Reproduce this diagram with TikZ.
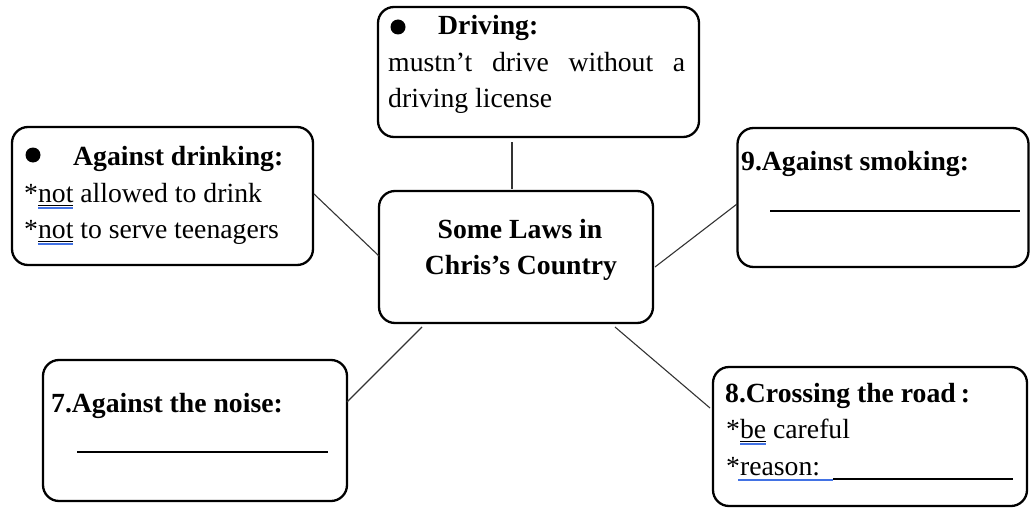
\documentclass[tikz,border=0pt]{standalone}
\usepackage{fontspec}
\setmainfont{Liberation Serif}
\definecolor{ulblue}{RGB}{66,114,228}
\tikzset{
  box/.style={draw=black, line width=2.3pt, rounded corners=16pt, inner sep=0pt, fill=white},
  txt/.style={anchor=base west, inner sep=0pt, font=\fontsize{27.7pt}{34pt}\selectfont},
  ctxt/.style={anchor=base, inner sep=0pt, font=\fontsize{27.7pt}{34pt}\selectfont\bfseries},
  link/.style={draw=black!80, line width=1.1pt},
  blank/.style={draw=black, line width=1.2pt},
  ulb/.style={draw=ulblue, line width=1.4pt},
  ulk/.style={draw=black, line width=0.9pt},
}
\begin{document}
\begin{tikzpicture}[x=1pt,y=-1pt]
\useasboundingbox (0,0) rectangle (1032,508);
% boxes
\node[box, minimum width=321pt, minimum height=130pt] (drv) at (538.5,72) {};
\node[box, minimum width=301pt, minimum height=138pt] (drk) at (162.5,196) {};
\node[box, minimum width=274pt, minimum height=132pt] (ctr) at (516,257) {};
\node[box, minimum width=291pt, minimum height=139pt] (smk) at (883,197.5) {};
\node[box, minimum width=304pt, minimum height=141pt] (noi) at (195,430.5) {};
\node[box, minimum width=314pt, minimum height=139pt] (rd) at (870,436.5) {};
% connector ends
\coordinate (c1a) at (512,142); \coordinate (c1b) at (512,189);
\coordinate (c2a) at (314,194); \coordinate (c2b) at (379,256);
\coordinate (c3a) at (655,267); \coordinate (c3b) at (737,204);
\coordinate (c4a) at (347,402); \coordinate (c4b) at (422,327);
\coordinate (c5a) at (615,327); \coordinate (c5b) at (710,408);
\draw[link] (c1a) -- (c1b);
\draw[link] (c2a) -- (c2b);
\draw[link] (c3a) -- (c3b);
\draw[link] (c4a) -- (c4b);
\draw[link] (c5a) -- (c5b);
% driving
\fill (398,27) circle (7.5);
\node[txt, font=\fontsize{27.7pt}{34pt}\selectfont\bfseries] (t1) at (438,35) {Driving:};
\node[txt] (t2) at (388,72) {\hbox to 297pt{mustn’t\hfill drive\hfill without\hfill a}};
\node[txt] (t3) at (388,108) {driving license};
% drinking
\fill (33,155) circle (7.5);
\node[txt, font=\fontsize{27.7pt}{34pt}\selectfont\bfseries] (t4) at (73,165) {Against drinking:};
\node[txt] (t5) at (24,202) {*not allowed to drink};
\node[txt] (t6) at (24,238) {*not to serve teenagers};
\draw[ulk] (38,205) -- (73,205);
\draw[ulb] (38,208) -- (73,208);
\draw[ulk] (38,241) -- (73,241);
\draw[ulb] (38,244) -- (73,244);
% center
\node[ctxt] (t7) at (520,238) {Some Laws in};
\node[ctxt] (t8) at (521,274) {Chris’s Country};
% smoking
\node[txt, font=\fontsize{27.7pt}{34pt}\selectfont\bfseries] (t9) at (741,170) {9.Against smoking:};
\draw[blank] (770,211) -- (1020,211);
% noise
\node[txt, font=\fontsize{27.7pt}{34pt}\selectfont\bfseries] (t10) at (51,412) {7.Against the noise:};
\draw[blank] (77,452) -- (328,452);
% road
\node[txt, font=\fontsize{27.7pt}{34pt}\selectfont\bfseries] (t11) at (725,402) {8.Crossing the road\hspace{5pt}:};
\node[txt] (t12) at (726,438) {*be careful};
\node[txt] (t13) at (726,475) {*reason:};
\draw[ulk] (740,441) -- (766,441);
\draw[ulb] (740,444) -- (766,444);
\draw[ulb] (738,480) -- (833,480);
\draw[blank] (833,479) -- (1013,479);
\end{tikzpicture}
\end{document}
